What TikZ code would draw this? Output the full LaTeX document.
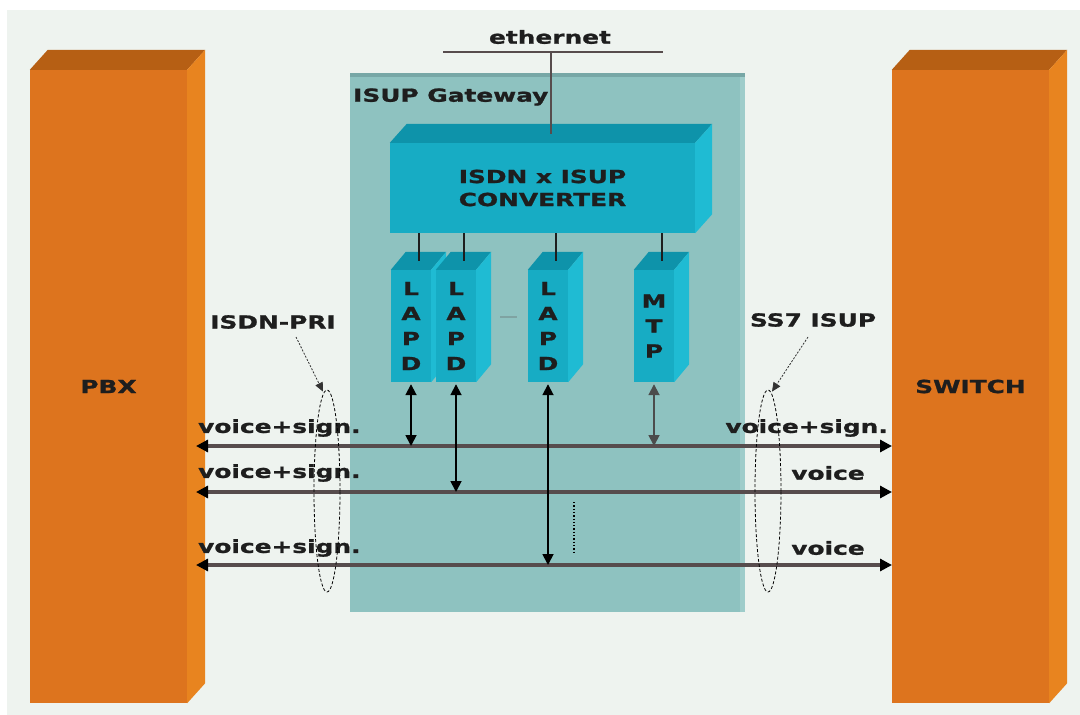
\documentclass[tikz,border=0pt]{standalone}
\usepackage{fontspec}
\newfontfamily\vb{DejaVu Sans Bold}[FakeStretch=1.38,FakeBold=1.2]
\usetikzlibrary{arrows.meta,shapes.geometric}
\definecolor{bg}{HTML}{EEF3EF}
\definecolor{orF}{HTML}{DD741E}
\definecolor{orT}{HTML}{B65F14}
\definecolor{orS}{HTML}{E8841F}
\definecolor{gw}{HTML}{8EC2C0}
\definecolor{gwT}{HTML}{77A7A6}
\definecolor{gwS}{HTML}{9ECCCA}
\definecolor{cyF}{HTML}{17ACC4}
\definecolor{cyT}{HTML}{0E93AA}
\definecolor{cyS}{HTML}{1FBBD3}
\definecolor{txt}{HTML}{1E1E1E}
\definecolor{wire}{HTML}{574C4D}
\definecolor{dashc}{HTML}{7FA3A2}
\newcommand\cubefaces[5]{%
  \fill[#4] (#1.north west) -- ([shift={(#2,-#3)}]#1.north west) -- ([shift={(#2,-#3)}]#1.north east) -- (#1.north east) -- cycle;
  \fill[#5] (#1.north east) -- ([shift={(#2,-#3)}]#1.north east) -- ([shift={(#2,-#3)}]#1.south east) -- (#1.south east) -- cycle;}
\begin{document}
\begin{tikzpicture}[x=1pt,y=-1pt,
  every node/.style={font=\vb\fontsize{18}{25}\selectfont, text=txt, inner sep=0pt},
  orbox/.style={fill=orF, minimum width=157pt, minimum height=633pt},
  cybox/.style={fill=cyF},
  colbox/.style={fill=cyF, minimum width=40pt, minimum height=112pt, align=center},
  link/.style={draw=txt, line width=2pt},
  wireline/.style={draw=wire, line width=3.5pt, {Triangle[length=12pt,width=12pt,color=black]}-{Triangle[length=12pt,width=12pt,color=black]}},
  varrow/.style={draw=black, line width=1.8pt, {Triangle[length=11pt,width=11pt]}-{Triangle[length=11pt,width=11pt]}},
  grp/.style={draw=black, dashed, dash pattern=on 3pt off 2pt, line width=0.8pt, ellipse, minimum width=26pt, minimum height=202pt},
  pointer/.style={draw=black!80, dashed, dash pattern=on 2pt off 1.5pt, line width=0.8pt, -{Triangle[length=9pt,width=8pt]}}
]
\useasboundingbox (0,0) rectangle (1080,715);
\fill[bg] (7,10) rectangle (1080,715);

% PBX and SWITCH
\node[orbox] (pbx) at (108.5,386.5) {PBX};
\cubefaces{pbx}{18}{20}{orT}{orS}
\node[orbox] (sw) at (970.5,386.5) {SWITCH};
\cubefaces{sw}{18}{20}{orT}{orS}

% Gateway
\node[fill=gw, minimum width=395pt, minimum height=539pt] (gw) at (547.5,342.5) {};
\fill[gwT] (gw.north west) rectangle ([yshift=-4pt]gw.north east);
\fill[gwS] ([xshift=-5pt,yshift=-4pt]gw.north east) rectangle (gw.south east);
\node[anchor=west] (gwlabel) at (353,97) {ISUP Gateway};

% ethernet
\coordinate (ethL) at (443,52);
\coordinate (ethR) at (663,52);
\coordinate (ethT) at (551,52);
\node (ethlabel) at (550,37) {ethernet};
\draw[draw=wire, line width=2.5pt] (ethL) -- (ethR);

% converter
\node[cybox, minimum width=305pt, minimum height=90pt, align=center] (conv) at (542.5,188) {ISDN x ISUP\\[-2pt]CONVERTER};
\cubefaces{conv}{17}{19}{cyT}{cyS}
\coordinate (ethB) at (551,134);
\draw[draw=wire, line width=2pt] (ethT) -- (ethB);

% columns
\node[colbox] (lapd1) at (411,326) {L\\A\\P\\D};
\cubefaces{lapd1}{15}{18}{cyT}{cyS}
\node[colbox] (lapd2) at (456,326) {L\\A\\P\\D};
\cubefaces{lapd2}{15}{18}{cyT}{cyS}
\node[colbox] (lapd3) at (548,326) {L\\A\\P\\D};
\cubefaces{lapd3}{15}{18}{cyT}{cyS}
\node[colbox] (mtp) at (654,326) {M\\T\\P};
\cubefaces{mtp}{15}{18}{cyT}{cyS}

\coordinate (dashA) at (500,317);
\coordinate (dashB) at (517,317);
\draw[draw=dashc, line width=2pt] (dashA) -- (dashB);

% links converter -> columns
\foreach \b in {lapd1,lapd2,lapd3,mtp}{
  \coordinate (t\b) at ([shift={(7.5,-9)}]\b.north);
  \draw[link] (t\b) -- (t\b |- conv.south);
}

% horizontal lines
\coordinate (h1l) at (196,446); \coordinate (h1r) at (892,446);
\coordinate (h2l) at (196,492); \coordinate (h2r) at (892,492);
\coordinate (h3l) at (196,565); \coordinate (h3r) at (892,565);
\draw[wireline] (h1l) -- (h1r);
\draw[wireline] (h2l) -- (h2r);
\draw[wireline] (h3l) -- (h3r);

% vertical arrows
\draw[varrow] ([yshift=-2pt]lapd1.south) -- (lapd1.south |- h1l);
\draw[varrow] ([yshift=-2pt]lapd2.south) -- (lapd2.south |- h2l);
\draw[varrow] ([yshift=-2pt]lapd3.south) -- (lapd3.south |- h3l);
\draw[varrow, draw=black!70] ([yshift=-2pt]mtp.south) -- (mtp.south |- h1l);

% dotted
\coordinate (dotA) at (574,502);
\coordinate (dotB) at (574,553);
\draw[draw=black, line width=1.3pt, dash pattern=on 1.3pt off 2pt] (dotA) -- (dotB);

% labels
\node[anchor=west] (v1l) at (198,428) {voice+sign.};
\node[anchor=west] (v2l) at (198,473) {voice+sign.};
\node[anchor=west] (v3l) at (198,548) {voice+sign.};
\node[anchor=east] (v1r) at (888,428) {voice+sign.};
\node (v2r) at (828,473) {voice};
\node (v3r) at (828,548) {voice};

% groups
\node[grp] (grpL) at (327,491) {};
\node[grp] (grpR) at (768,491) {};
\node (isdn) at (273,322) {ISDN-PRI};
\node (ss7) at (813,320) {SS7 ISUP};
\coordinate (pL) at (296,337);
\coordinate (pR) at (808,337);
\draw[pointer] (pL) -- ([xshift=-4pt,yshift=-2pt]grpL.north);
\draw[pointer] (pR) -- ([xshift=4pt,yshift=-2pt]grpR.north);
\end{tikzpicture}
\end{document}
